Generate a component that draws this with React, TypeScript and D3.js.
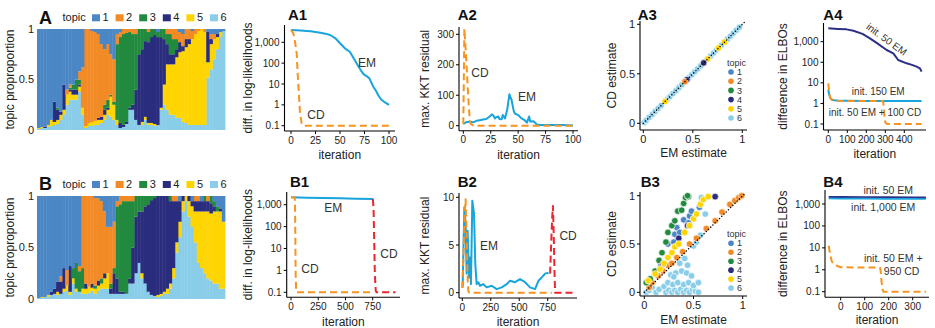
import React from 'react';
import * as d3 from 'd3';

const FONT = '"Liberation Sans", Arial, Helvetica, sans-serif';
const INK = '#222';

const TOPICS = ['1', '2', '3', '4', '5', '6'];
const TOPIC_COLORS = ['#4b86c5', '#f28a26', '#228a3f', '#2a2c7d', '#fed401', '#89cde9'];
const EM_BLUE = '#18a4dd';
const CD_ORANGE = '#f7931f';
const CD_RED = '#ec2530';
const NAVY = '#2c2f86';

// structure plots: topic proportions per sample column [t1..t6]
const structA: number[][] = [
  [.98, 0, 0, 0, .01, .01], [.97, 0, 0, 0, .01, .02], [.97, 0, 0, .01, 0, .02], [.95, 0, 0, 0, .02, .03],
  [.90, 0, 0, 0, .06, .04], [.72, 0, 0, .20, .03, .05], [.78, 0, .02, .10, .04, .06], [.82, 0, 0, .03, .05, .10],
  [.55, 0, 0, .25, .05, .15], [.60, .05, 0, 0, .10, .25], [.55, .03, .02, .02, .08, .30], [.55, 0, .05, .05, .05, .30],
  [.50, 0, .10, .05, .05, .30], [.42, .08, .05, .02, .05, .38], [.38, .40, 0, 0, .07, .15], [0, .96, 0, 0, .02, .02],
  [0, .93, 0, 0, .03, .04], [.02, .90, 0, 0, .04, .04], [.03, .88, 0, 0, .04, .05], [.05, .83, 0, .02, .05, .05],
  [.15, .72, 0, .03, .03, .07], [.20, .55, .05, .05, .05, .10], [.15, .55, .08, .02, .05, .15], [.25, .40, .02, 0, .20, .13],
  [.30, .42, .03, 0, .15, .10], [.05, .10, .75, 0, .05, .05], [.03, .05, .85, .05, 0, .02], [0, .05, .90, .02, 0, .03],
  [0, .04, .88, .02, 0, .06], [0, .03, .75, .02, 0, .20], [0, .05, .70, .05, 0, .20], [0, .05, .55, .30, 0, .10],
  [0, 0, .25, .70, 0, .05], [0, 0, .20, .72, .03, .05], [0, 0, .12, .75, .03, .10], [0, .03, .10, .80, .02, .05],
  [0, 0, .08, .85, .02, .05], [0, 0, .06, .88, .02, .04], [.03, 0, .05, .87, 0, .05], [0, 0, .08, .70, .02, .20],
  [0, 0, .10, .45, .20, .25], [0, .05, .10, .20, .45, .20], [0, .05, .20, .10, .50, .15], [0, .10, .15, .10, .50, .15],
  [0, .10, .10, .08, .60, .12], [.03, .10, 0, .10, .65, .12], [.05, .12, 0, .05, .70, .08], [0, .10, 0, .08, .75, .07],
  [0, .10, 0, .05, .80, .05], [.02, .08, 0, 0, .85, .05], [0, .05, 0, 0, .90, .05], [0, .02, 0, 0, .93, .05],
  [0, 0, 0, 0, .95, .05], [0, .03, 0, 0, .92, .05], [.03, 0, 0, .30, .15, .52], [.05, .05, 0, .05, .25, .60],
  [.05, .05, 0, 0, .20, .70], [.05, 0, 0, .03, .12, .80], [.03, 0, 0, 0, .05, .92], [.02, 0, 0, 0, 0, .98],
];

const structB: number[][] = [
  [.99, 0, 0, 0, 0, .01], [.98, 0, 0, 0, .01, .01], [.98, 0, 0, 0, 0, .02], [.96, 0, 0, 0, .02, .02],
  [.93, 0, 0, .03, 0, .04], [.90, 0, 0, .05, 0, .05], [.83, 0, 0, .10, .03, .04], [.78, .05, 0, .12, 0, .05],
  [.70, 0, 0, .20, .03, .07], [.72, .15, 0, 0, .05, .08], [.68, 0, 0, .25, .03, .04], [.70, 0, .10, 0, .05, .15],
  [.65, 0, .25, 0, .03, .07], [.68, .05, .20, 0, 0, .07], [0, .70, .20, 0, .05, .05], [0, .85, 0, .05, .05, .05],
  [0, .88, 0, 0, .06, .06], [0, .85, 0, .04, .03, .08], [.02, .85, .03, 0, .05, .05], [.02, .80, 0, .05, .05, .08],
  [.05, .75, .05, 0, .05, .10], [.15, .60, 0, .05, .10, .10], [.30, .45, 0, 0, .15, .10], [.30, .55, .05, .05, 0, .05],
  [.25, .45, .05, .20, 0, .05], [.05, .05, .70, .15, 0, .05], [0, .08, .85, .02, 0, .05], [0, .05, .88, .02, 0, .05],
  [0, .05, .90, 0, 0, .05], [0, .05, .75, .05, 0, .15], [0, .05, .45, .35, 0, .15], [0, 0, .20, .55, 0, .25],
  [0, 0, .15, .50, 0, .35], [0, 0, .15, .60, .05, .20], [0, 0, .10, .75, 0, .15], [0, 0, .08, .85, 0, .07],
  [0, 0, .04, .92, 0, .04], [0, 0, .02, .95, 0, .03], [0, 0, 0, .96, .02, .02], [0, 0, 0, .95, .02, .03],
  [0, 0, 0, .93, .02, .05], [0, 0, 0, .90, .05, .05], [0, 0, .05, .80, .05, .10], [0, .05, 0, .65, .10, .20],
  [0, .05, 0, .40, .10, .45], [.05, 0, 0, .20, .15, .60], [0, 0, 0, .05, .10, .85], [0, 0, 0, 0, .05, .95],
  [0, 0, 0, .05, .15, .80], [.05, 0, 0, .05, .20, .70], [0, .05, 0, .10, .30, .55], [0, .05, 0, .10, .50, .35],
  [.05, 0, 0, .10, .55, .30], [0, 0, .05, .10, .60, .25], [0, .05, 0, .10, .65, .20], [0, 0, .07, .10, .65, .18],
  [.05, 0, .05, .05, .70, .15], [.10, 0, .05, 0, .70, .15], [.12, 0, 0, .03, .75, .10], [.25, 0, 0, 0, .65, .10],
];

// A1: diff. in log-likelihoods
const a1EmIter = [0, 5, 10, 16, 20, 25, 30, 35, 40, 45, 47, 50, 55, 60, 65, 69, 72, 74, 77, 80, 84, 87, 89, 92, 95, 98, 100];
const a1EmVal = [3900, 3800, 3650, 3500, 3350, 3150, 2900, 2600, 2240, 1600, 1290, 900, 515, 354, 140, 67, 40, 30, 24, 18.6, 7.4, 4.5, 2.9, 1.8, 1.4, 1.15, 1];
const a1CdIter = [0, 2.4, 4.1, 5.8, 6.8, 8.2, 9.2, 10.9, 12.6, 100];
const a1CdVal = [3900, 2700, 1070, 295, 32, 2.4, 0.39, 0.13, 0.1, 0.1];

// A2: max. KKT residual
const a2EmIter = [0, 3, 6, 9, 12, 15, 18, 21, 24, 26, 27, 29, 30, 32, 33, 35, 36, 38, 40, 42, 44, 46, 47, 50, 53, 56, 58, 60, 61, 64, 67, 70, 73, 80, 90, 100];
const a2EmVal = [6, 12, 13, 11, 16, 18, 20, 22, 30, 37, 35, 24, 28, 30, 22, 21, 35, 24, 52, 103, 84, 48, 40, 35, 24, 18, 10, 30, 14, 15, 4, 2, 2, 2, 2, 1];
const a2CdIter = [0, 1, 2, 3, 4, 5, 6, 7, 9, 12, 100];
const a2CdVal = [5, 318, 260, 195, 130, 65, 15, 5, 1, 0, 0];

// A3: CD vs EM estimates
const a3Em = [0.01, 0.03, 0.06, 0.09, 0.12, 0.15, 0.18, 0.24, 0.27, 0.30, 0.33, 0.36, 0.39, 0.46, 0.49, 0.52, 0.55, 0.58, 0.68, 0.71, 0.74, 0.79, 0.85, 0.88, 0.91, 0.94, 0.97,
  0.22, 0.65, 0.76, 0.82, 0.44, 0.61, 0.42];
const a3Cd = [0.01, 0.03, 0.06, 0.09, 0.12, 0.15, 0.18, 0.24, 0.27, 0.30, 0.33, 0.36, 0.39, 0.46, 0.49, 0.52, 0.55, 0.58, 0.68, 0.71, 0.74, 0.79, 0.85, 0.88, 0.91, 0.94, 0.97,
  0.22, 0.65, 0.76, 0.82, 0.44, 0.61, 0.42];
const a3Topic = [6, 6, 6, 6, 6, 6, 6, 6, 6, 6, 6, 6, 6, 6, 6, 6, 6, 6, 6, 6, 6, 6, 6, 6, 6, 6, 6,
  5, 5, 5, 5, 4, 4, 2];

// A4: difference in ELBOs
const a4NavyIter = [0, 50, 96, 132, 180, 219, 260, 307, 342, 368, 412, 440, 465, 482, 491];
const a4NavyVal = [4460, 4200, 3980, 3430, 2400, 1455, 800, 395, 272, 129, 89, 75, 61, 51, 35];
const a4BlueIter = [0, 5, 10, 15, 20, 30, 50, 100, 200, 300, 400, 491];
const a4BlueVal = [4.5, 2.6, 1.9, 1.6, 1.5, 1.42, 1.38, 1.35, 1.33, 1.32, 1.32, 1.32];
const a4CdIter = [0, 3, 6, 10, 15, 20, 30, 50, 100, 200, 288, 292, 296, 300, 310, 400, 491];
const a4CdVal = [9.5, 5, 2.8, 2, 1.6, 1.5, 1.4, 1.35, 1.3, 1.3, 1.3, 0.7, 0.2, 0.12, 0.1, 0.1, 0.1];

// B1
const b1EmIter = [0, 150, 300, 450, 600, 756];
const b1EmVal = [2180, 2100, 2020, 1950, 1880, 1800];
const b1CdIter = [0, 34, 37, 40, 43, 47, 52, 760];
const b1CdVal = [2180, 2150, 900, 20, 0.6, 0.12, 0.1, 0.1];
const b1RedIter = [752, 758, 764, 770, 778, 785, 960];
const b1RedVal = [1800, 600, 20, 0.6, 0.12, 0.1, 0.1];

// B2
const b2EmIter = [3, 18, 29, 38, 47, 59, 67, 76, 88, 103, 114, 126, 141, 155, 185, 214, 258, 302, 346, 390, 419, 463, 507, 551, 595, 639, 669, 698, 727, 757];
const b2EmVal = [0.56, 8.95, 7.2, 2, 6.5, 1.6, 3.7, 0.9, 9.65, 8.25, 3, 0.9, 1.1, 0.73, 0.9, 0.56, 0.73, 0.38, 0.56, 0.9, 1.26, 1.1, 1.43, 1.1, 0.56, 0.38, 1.26, 1.6, 2, 2.1];
const b2CdIter = [0, 10, 20, 29, 35, 41, 47, 53, 60, 786];
const b2CdVal = [0.5, 4, 8, 9.8, 7.5, 4.5, 1.5, 0.2, 0, 0];
const b2RedIter = [771, 780, 790, 796, 803, 810, 815, 990];
const b2RedVal = [2.0, 5, 8, 9.1, 6, 2, 0, 0];

// B3: CD vs EM estimates, grouped by topic
const b3Em = [
  // topic 6
  0.02, 0.05, 0.08, 0.12, 0.15, 0.20, 0.22, 0.25, 0.28, 0.31, 0.34, 0.37, 0.40, 0.43, 0.46, 0.49, 0.52, 0.55, 0.24, 0.29,
  0.34, 0.40, 0.45, 0.50, 0.55, 0.27, 0.32, 0.38, 0.43, 0.48, 0.36, 0.41, 0.44, 0.50, 0.53, 0.57, 0.58, 0.62, 0.30,
  // topic 1
  0.17, 0.24, 0.31, 0.33, 0.36, 0.40, 0.45, 0.46, 0.48, 0.56, 0.30,
  // topic 2
  0.05, 0.08, 0.14, 0.19, 0.24, 0.28, 0.33, 0.39, 0.46, 0.53, 0.63, 0.72, 0.79, 0.87, 0.92, 0.96, 0.99,
  // topic 3
  0.02, 0.06, 0.11, 0.15, 0.18, 0.22, 0.24, 0.28, 0.31, 0.34, 0.38, 0.40, 0.42, 0.45, 0.44,
  // topic 4
  0.19, 0.35, 0.44, 0.72,
  // topic 5
  0.04, 0.11, 0.16, 0.20, 0.24, 0.28, 0.31, 0.35, 0.41, 0.46, 0.50, 0.53, 0.57, 0.60, 0.65,
];
const b3Cd = [
  0.00, 0.02, 0.05, 0.00, 0.03, 0.06, 0.00, 0.02, 0.00, 0.02, 0.00, 0.03, 0.00, 0.02, 0.00, 0.03, 0.01, 0.00, 0.10, 0.08,
  0.10, 0.08, 0.10, 0.07, 0.10, 0.18, 0.20, 0.22, 0.20, 0.17, 0.30, 0.35, 0.28, 0.48, 0.52, 0.59, 0.98, 0.81, 0.16,
  0.28, 0.50, 0.60, 0.67, 0.62, 0.75, 0.72, 0.79, 0.84, 0.88, 0.52,
  0.05, 0.10, 0.17, 0.22, 0.28, 0.30, 0.36, 0.42, 0.50, 0.56, 0.66, 0.74, 0.83, 0.91, 0.95, 0.98, 1.00,
  0.10, 0.14, 0.22, 0.33, 0.41, 0.52, 0.62, 0.69, 0.74, 0.84, 0.85, 0.92, 0.98, 0.99, 1.00,
  0.29, 0.56, 0.69, 0.99,
  0.12, 0.19, 0.24, 0.30, 0.36, 0.41, 0.47, 0.50, 0.62, 0.69, 0.76, 0.81, 0.91, 0.96, 0.99,
];
const b3Topic = [
  ...Array(39).fill(6), ...Array(11).fill(1), ...Array(17).fill(2), ...Array(15).fill(3), ...Array(4).fill(4), ...Array(15).fill(5),
];

// B4
const b4NavyIter = [-50, 0, 100, 200, 300, 355];
const b4NavyVal = [2150, 2120, 2080, 2050, 2020, 2000];
const b4BlueIter = [-50, 0, 100, 200, 300, 355];
const b4BlueVal = [1850, 1830, 1800, 1780, 1760, 1750];
const b4CdIter = [-50, -47, -44, -38, -31, -17, 0, 164, 167, 170, 174, 178, 355];
const b4CdVal = [12.5, 8, 5.2, 2.6, 1.8, 1.55, 1.3, 1.25, 0.8, 0.3, 0.13, 0.1, 0.1];

const logTicks = [0.1, 1, 10, 100, 1000];
const DASH = '7,4';

type Series = { x: number[]; y: number[]; color: string; dash?: string; width?: number };
type Note = { text: string; x: number; y: number; size?: number; rotate?: number };
type Cfg = {
  title: string; titleX: number; titleY: number;
  xDom: number[]; xRng: number[]; yDom: number[]; yRng: number[]; yLog?: boolean;
  axX: number; axY: number; xEnd: number; yTop: number;
  xTicks: number[]; yTicks: number[]; tickSize: number;
  xTitle: string; xTitleY: number; yTitle: string; yTitleX: number;
  series?: Series[]; notes?: Note[];
  points?: { x: number[]; y: number[]; topic: number[] };
  diag?: boolean; legend?: { x: number; titleY: number; y0: number; dy: number };
};

function Panel({ c }: { c: Cfg }) {
  const x = d3.scaleLinear().domain(c.xDom).range(c.xRng);
  const y: any = c.yLog
    ? d3.scaleLog().domain(c.yDom).range(c.yRng)
    : d3.scaleLinear().domain(c.yDom).range(c.yRng);
  const fmt = d3.format(',');
  const line = d3.line<[number, number]>().x(d => x(d[0])).y(d => y(d[1]));
  const tk = 3;

  // draw light-blue points first so coloured ones sit on top
  const order = c.points ? d3.range(c.points.x.length).sort((a, b) =>
    (c.points!.topic[a] === 6 ? 0 : 1) - (c.points!.topic[b] === 6 ? 0 : 1)) : [];

  return (
    <g fontFamily={FONT}>
      <text x={c.titleX} y={c.titleY} fontSize={15} fontWeight="bold" fill="#111">{c.title}</text>

      {c.series?.map((s, i) => (
        <path key={i} d={line(s.x.map((v, j) => [v, s.y[j]] as [number, number])) || ''}
          fill="none" stroke={s.color} strokeWidth={s.width ?? 2} strokeDasharray={s.dash}
          strokeLinejoin="round" />
      ))}

      {c.points && order.map(i => (
        <circle key={i} cx={x(c.points!.x[i])} cy={y(c.points!.y[i])} r={3.3}
          fill={TOPIC_COLORS[c.points!.topic[i] - 1]} stroke="#fff" strokeWidth={0.7} />
      ))}

      {c.diag && (
        <line x1={x(0)} y1={y(0)} x2={x(1.02)} y2={y(1.02)} stroke="#000" strokeWidth={1.4}
          strokeDasharray="0.1,3" strokeLinecap="round" />
      )}

      {c.notes?.map((n, i) => (
        <text key={i} x={x(n.x)} y={y(n.y)} dy="0.35em" textAnchor="middle" fontSize={n.size ?? 12}
          fill="#333" transform={n.rotate ? `rotate(${n.rotate},${x(n.x)},${y(n.y)})` : undefined}>{n.text}</text>
      ))}

      {c.legend && (
        <g fontSize={9} fill="#333">
          <text x={c.legend.x - 4} y={c.legend.titleY}>topic</text>
          {TOPICS.map((t, i) => (
            <g key={t}>
              <circle cx={c.legend!.x} cy={c.legend!.y0 + i * c.legend!.dy} r={2.8} fill={TOPIC_COLORS[i]} />
              <text x={c.legend!.x + 6} y={c.legend!.y0 + i * c.legend!.dy} dy="0.35em">{t}</text>
            </g>
          ))}
        </g>
      )}

      <line x1={c.axX} x2={c.axX} y1={c.yTop} y2={c.axY} stroke="#000" strokeWidth={1.1} />
      <line x1={c.axX} x2={c.xEnd} y1={c.axY} y2={c.axY} stroke="#000" strokeWidth={1.1} />
      {c.xTicks.map(t => (
        <g key={'x' + t}>
          <line x1={x(t)} x2={x(t)} y1={c.axY} y2={c.axY + tk} stroke="#000" />
          <text x={x(t)} y={c.axY + 12.5} textAnchor="middle" fontSize={c.tickSize} fill={INK}>{fmt(t)}</text>
        </g>
      ))}
      {c.yTicks.map(t => (
        <g key={'y' + t}>
          <line x1={c.axX - tk} x2={c.axX} y1={y(t)} y2={y(t)} stroke="#000" />
          <text x={c.axX - tk - 2} y={y(t)} dy="0.35em" textAnchor="end" fontSize={c.tickSize} fill={INK}>{fmt(t)}</text>
        </g>
      ))}
      <text x={(c.axX + c.xEnd) / 2} y={c.xTitleY} textAnchor="middle" fontSize={12} fill={INK}>{c.xTitle}</text>
      <text transform={`translate(${c.yTitleX},${(c.yTop + c.axY) / 2}) rotate(-90)`} textAnchor="middle"
        fontSize={12} fill={INK}>{c.yTitle}</text>
    </g>
  );
}

function StructurePlot({ cols, tag, top, bottom, tagY, legendY }:
  { cols: number[][]; tag: string; top: number; bottom: number; tagY: number; legendY: number }) {
  const xb = d3.scaleBand<number>().domain(d3.range(cols.length)).range([37, 225]);
  const ys = d3.scaleLinear().domain([0, 1]).range([bottom, top]);
  const layers = d3.stack<number[], number>()
    .keys([5, 4, 3, 2, 1, 0])
    .value((d, k) => d[k])
    .offset(d3.stackOffsetExpand)(cols);
  return (
    <g fontFamily={FONT}>
      <text x={39} y={tagY} fontSize={18} fontWeight="bold" fill="#111">{tag}</text>
      <text x={62.5} y={legendY + 6.5} fontSize={11} fill={INK}>topic</text>
      {TOPICS.map((t, i) => (
        <g key={t}>
          <rect x={92 + i * 23.6} y={legendY} width={8} height={7} fill={TOPIC_COLORS[i]} />
          <text x={102.5 + i * 23.6} y={legendY + 7} fontSize={11} fill={INK}>{t}</text>
        </g>
      ))}
      {layers.map(layer => (
        <g key={layer.key} fill={TOPIC_COLORS[layer.key]}>
          {layer.map((seg, i) => (
            <rect key={i} x={xb(i)!} y={ys(seg[1])} width={xb.bandwidth() + 0.4}
              height={Math.max(0, ys(seg[0]) - ys(seg[1]))} />
          ))}
        </g>
      ))}
      {[0, 0.5, 1].map(t => (
        <text key={t} x={34} y={ys(t)} dy="0.35em" textAnchor="end" fontSize={11} fill={INK}>{String(t)}</text>
      ))}
      <text transform={`translate(14,${(top + bottom) / 2}) rotate(-90)`} textAnchor="middle" fontSize={12}
        fill={INK}>topic proproportion</text>
    </g>
  );
}

const panels: Cfg[] = [
  {
    title: 'A1', titleX: 288, titleY: 19.5, xDom: [0, 100], xRng: [291, 389], yDom: [0.1, 1000], yRng: [125.7, 42.3], yLog: true,
    axX: 284.5, axY: 131, xEnd: 395, yTop: 25, xTicks: [0, 25, 50, 75, 100], yTicks: logTicks, tickSize: 10,
    xTitle: 'iteration', xTitleY: 159, yTitle: 'diff. in log-likelihoods', yTitleX: 252,
    series: [
      { x: a1EmIter, y: a1EmVal, color: EM_BLUE },
      { x: a1CdIter, y: a1CdVal, color: CD_ORANGE, dash: DASH },
    ],
    notes: [{ text: 'EM', x: 77.6, y: 102 }, { text: 'CD', x: 25.5, y: 0.33 }],
  },
  {
    title: 'A2', titleX: 457.7, titleY: 19.5, xDom: [0, 100], xRng: [463.3, 573], yDom: [0, 300], yRng: [125.7, 34.3],
    axX: 459, axY: 130.7, xEnd: 578, yTop: 27, xTicks: [0, 25, 50, 75, 100], yTicks: [0, 100, 200, 300], tickSize: 10,
    xTitle: 'iteration', xTitleY: 159, yTitle: 'max. KKT residual', yTitleX: 428.5,
    series: [
      { x: a2EmIter, y: a2EmVal, color: EM_BLUE },
      { x: a2CdIter, y: a2CdVal, color: CD_ORANGE, dash: DASH },
    ],
    notes: [{ text: 'CD', x: 15.2, y: 173 }, { text: 'EM', x: 58, y: 94 }],
  },
  {
    title: 'A3', titleX: 637.7, titleY: 19.5, xDom: [0, 1], xRng: [643.3, 742.3], yDom: [0, 1], yRng: [123.3, 24.3],
    axX: 640, axY: 130, xEnd: 747, yTop: 21, xTicks: [0, 0.5, 1], yTicks: [0, 0.5, 1], tickSize: 11,
    xTitle: 'EM estimate', xTitleY: 156.7, yTitle: 'CD estimate', yTitleX: 616,
    points: { x: a3Em, y: a3Cd, topic: a3Topic }, diag: true,
    legend: { x: 731, titleY: 66, y0: 72, dy: 9.2 },
  },
  {
    title: 'A4', titleX: 823.3, titleY: 19.5, xDom: [0, 400], xRng: [828.3, 904.3], yDom: [0.1, 1000], yRng: [124, 41.7], yLog: true,
    axX: 823.5, axY: 130, xEnd: 926, yTop: 23, xTicks: [0, 100, 200, 300, 400], yTicks: logTicks, tickSize: 10,
    xTitle: 'iteration', xTitleY: 158, yTitle: 'difference in ELBOs', yTitleX: 787,
    series: [
      { x: a4NavyIter, y: a4NavyVal, color: NAVY },
      { x: a4BlueIter, y: a4BlueVal, color: EM_BLUE },
      { x: a4CdIter, y: a4CdVal, color: CD_ORANGE, dash: DASH },
    ],
    notes: [
      { text: 'init. 50 EM', x: 307, y: 1309, size: 10, rotate: 36 },
      { text: 'init. 150 EM', x: 263, y: 3.74, size: 10 },
      { text: 'init. 50 EM + 100 CD', x: 246, y: 0.357, size: 10 },
    ],
  },
  {
    title: 'B1', titleX: 290, titleY: 186.5, xDom: [0, 750], xRng: [291, 372.7], yDom: [0.1, 1000], yRng: [292.3, 204.7], yLog: true,
    axX: 286.7, axY: 297.3, xEnd: 400, yTop: 192, xTicks: [0, 250, 500, 750], yTicks: logTicks, tickSize: 10,
    xTitle: 'iteration', xTitleY: 325.7, yTitle: 'diff. in log-likelihoods', yTitleX: 252,
    series: [
      { x: b1EmIter, y: b1EmVal, color: EM_BLUE },
      { x: b1CdIter, y: b1CdVal, color: CD_ORANGE, dash: DASH },
      { x: b1RedIter, y: b1RedVal, color: CD_RED, dash: DASH },
    ],
    notes: [{ text: 'EM', x: 388, y: 760 }, { text: 'CD', x: 174, y: 1.16 }, { text: 'CD', x: 900, y: 5.6 }],
  },
  {
    title: 'B2', titleX: 457.7, titleY: 186.5, xDom: [0, 750], xRng: [462.3, 547.7], yDom: [0, 10], yRng: [292.7, 197.3],
    axX: 459, axY: 298, xEnd: 577, yTop: 193, xTicks: [0, 250, 500, 750], yTicks: [0, 5, 10], tickSize: 10,
    xTitle: 'iteration', xTitleY: 325.7, yTitle: 'max. KKT residual', yTitleX: 428.5,
    series: [
      { x: b2EmIter, y: b2EmVal, color: EM_BLUE },
      { x: b2CdIter, y: b2CdVal, color: CD_ORANGE, dash: DASH },
      { x: b2RedIter, y: b2RedVal, color: CD_RED, dash: DASH },
    ],
    notes: [{ text: 'EM', x: 235, y: 4.93 }, { text: 'CD', x: 929, y: 5.97 }],
  },
  {
    title: 'B3', titleX: 640.7, titleY: 186.5, xDom: [0, 1], xRng: [644.3, 742.7], yDom: [0, 1], yRng: [292.3, 195.7],
    axX: 640, axY: 296, xEnd: 747, yTop: 192, xTicks: [0, 0.5, 1], yTicks: [0, 0.5, 1], tickSize: 11,
    xTitle: 'EM estimate', xTitleY: 324, yTitle: 'CD estimate', yTitleX: 616,
    points: { x: b3Em, y: b3Cd, topic: b3Topic }, diag: true,
    legend: { x: 731, titleY: 237, y0: 243.3, dy: 8.95 },
  },
  {
    title: 'B4', titleX: 823.3, titleY: 186.5, xDom: [0, 300], xRng: [840.7, 912.7], yDom: [0.1, 1000], yRng: [291.7, 204], yLog: true,
    axX: 825, axY: 297.3, xEnd: 929, yTop: 190, xTicks: [0, 100, 200, 300], yTicks: logTicks, tickSize: 10,
    xTitle: 'iteration', xTitleY: 324, yTitle: 'difference in ELBOs', yTitleX: 787,
    series: [
      { x: b4BlueIter, y: b4BlueVal, color: EM_BLUE, width: 2.4 },
      { x: b4NavyIter, y: b4NavyVal, color: NAVY, width: 1.6 },
      { x: b4CdIter, y: b4CdVal, color: CD_ORANGE, dash: DASH },
    ],
    notes: [
      { text: 'init. 50 EM', x: 198, y: 4050, size: 10.5 },
      { text: 'init. 1,000 EM', x: 177, y: 707, size: 10.5 },
      { text: 'init. 50 EM +', x: 219, y: 3.42, size: 10.5 },
      { text: '950 CD', x: 254, y: 0.845, size: 10.5 },
    ],
  },
];

export default function App() {
  return (
    <svg width={935} height={328} viewBox="0 0 935 328"
      style={{ position: 'absolute', left: 0, top: 0, display: 'block', background: '#fff' }}>
      <StructurePlot cols={structA} tag="A" top={29} bottom={130} tagY={23.5} legendY={14.3} />
      <StructurePlot cols={structB} tag="B" top={196} bottom={299} tagY={190} legendY={181} />
      {panels.map(p => <Panel key={p.title} c={p} />)}
    </svg>
  );
}
